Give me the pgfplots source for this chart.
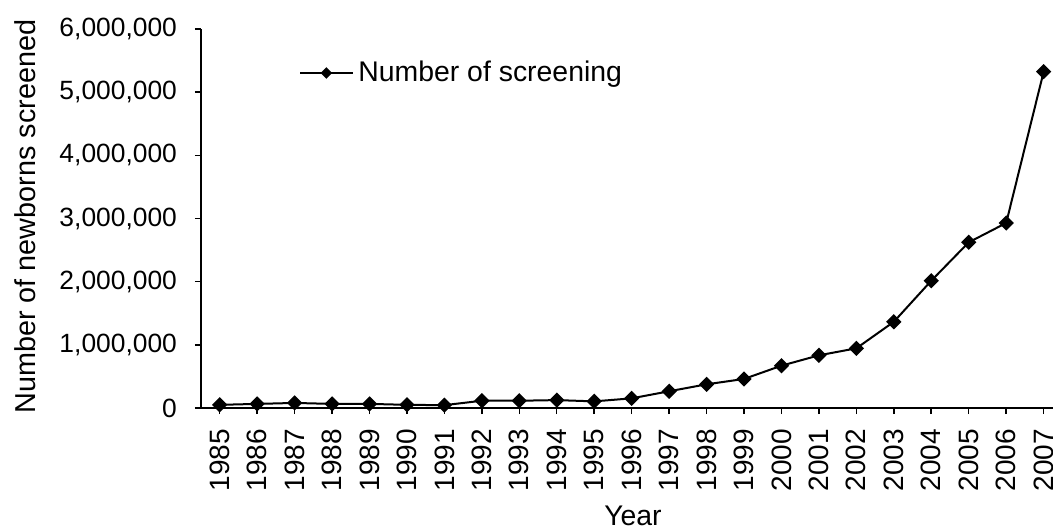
\documentclass[border=0pt]{standalone}
\usepackage{fontspec}
\setmainfont{Liberation Sans}
\usepackage{pgfplots}
\pgfplotsset{compat=1.18}
\begin{document}
\fontsize{13}{15.6}\selectfont
\begin{tikzpicture}
\begin{axis}[
  scale only axis,
  width=426pt, height=189.5pt,
  xmin=1984.5, xmax=2007.25,
  ymin=0, ymax=6000000,
  axis x line*=bottom, axis y line*=left,
  axis line style={line width=0.75pt, -},
  xtick={1985,...,2007},
  ytick={0,1000000,2000000,3000000,4000000,5000000,6000000},
  tick align=outside,
  major tick length=3pt,
  tick style={line width=0.75pt, black},
  scaled y ticks=false,
  /pgf/number format/assume math mode=true,
  yticklabel style={/pgf/number format/fixed, /pgf/number format/1000 sep={,}, font=\fontsize{13.2}{15.6}\selectfont, xshift=-4.5pt},
  xticklabel style={/pgf/number format/1000 sep={}, rotate=90, anchor=east, font=\fontsize{14}{16}\selectfont, yshift=0pt, xshift=-3pt},
  xlabel={Year},
  ylabel={Number of newborns screened},
  xlabel style={at={(axis description cs:0.507,-0.284)}, anchor=center, font=\fontsize{14.2}{16}\selectfont},
  ylabel style={at={(axis description cs:-0.206,0.505)}, anchor=center, rotate=0, font=\fontsize{14.4}{16}\selectfont},
  legend style={draw=none, fill=none, at={(axis description cs:0.115,0.884)}, anchor=west, font=\fontsize{14.2}{16}\selectfont, inner sep=0pt, cells={anchor=west}},
  legend image code/.code={\draw[line width=1pt] (0pt,0pt) -- (26.5pt,0pt); \fill[black] (13pt,2.2pt) -- (15.2pt,0pt) -- (13pt,-2.2pt) -- (10.8pt,0pt) -- cycle;},
  clip=false,
]
\addplot[black, line width=1pt, mark=square*, mark size=2.2pt, mark options={rotate=45, solid, fill=black}] coordinates {
(1985,50000) (1986,65000) (1987,80000) (1988,65000) (1989,65000) (1990,50000) (1991,45000)
(1992,115000) (1993,115000) (1994,125000) (1995,105000) (1996,153000) (1997,265000)
(1998,375000) (1999,460000) (2000,670000) (2001,834000) (2002,945000) (2003,1365000)
(2004,2015000) (2005,2623000) (2006,2929000) (2007,5324000)
};
\addlegendentry{Number of screening}
\coordinate (O) at (rel axis cs:0,0);
\end{axis}
\pgfresetboundingbox
\path ([shift={(-100.5pt,-60.5pt)}]O) rectangle ++(526.5pt,264.5pt);
\end{tikzpicture}
\end{document}
